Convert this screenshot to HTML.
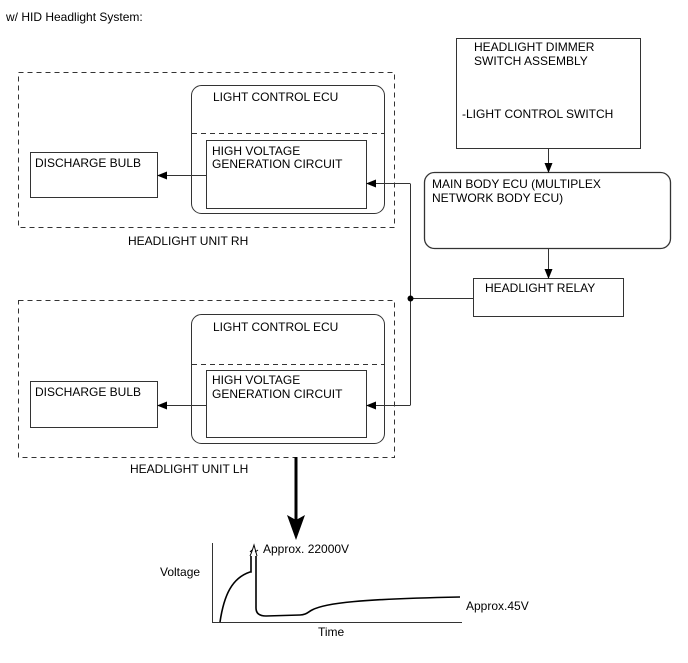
<!DOCTYPE html>
<html><head><meta charset="utf-8"><style>
html,body{margin:0;padding:0;background:#fff;}
text{font-family:"Liberation Sans",sans-serif;font-size:12px;fill:#000;}
</style></head><body>
<svg width="688" height="658" viewBox="0 0 688 658" xmlns="http://www.w3.org/2000/svg">
<defs><marker id="a" markerWidth="10" markerHeight="8" refX="9" refY="4" orient="auto" markerUnits="userSpaceOnUse"><path d="M0,0 L10,4 L0,8 Z" fill="#000"/></marker></defs>
<text x="6" y="21">w/ HID Headlight System:</text>
<g fill="none" stroke="#333" stroke-width="1">
<rect x="18.5" y="72.5" width="376" height="155" stroke-dasharray="5,4"/>
<rect x="191.5" y="85.5" width="193" height="128" rx="10"/>
<line x1="192" y1="133.5" x2="384" y2="133.5" stroke-dasharray="5,4"/>
<rect x="206.5" y="140.5" width="160" height="68"/>
<rect x="30.5" y="152.5" width="127" height="45"/>
<rect x="18.5" y="300.5" width="376" height="157" stroke-dasharray="5,4"/>
<rect x="191.5" y="314.5" width="193" height="129" rx="10"/>
<line x1="192" y1="364.5" x2="384" y2="364.5" stroke-dasharray="5,4"/>
<rect x="206.5" y="370.5" width="160" height="67"/>
<rect x="30.5" y="381.5" width="127" height="46"/>
<rect x="456.5" y="38.5" width="184" height="110"/>
<rect x="424.5" y="172.5" width="246" height="76" rx="10" stroke-width="1.3"/>
<rect x="473.5" y="278.5" width="150" height="38"/>
<line x1="206" y1="175.5" x2="158" y2="175.5" marker-end="url(#a)"/>
<line x1="206" y1="405.5" x2="158" y2="405.5" marker-end="url(#a)"/>
<polyline points="410.5,183.5 410.5,405.5"/>
<line x1="410" y1="183.5" x2="367" y2="183.5" marker-end="url(#a)"/>
<line x1="410" y1="405.5" x2="367" y2="405.5" marker-end="url(#a)"/>
<line x1="410" y1="298.5" x2="473" y2="298.5"/>
<line x1="548.5" y1="149" x2="548.5" y2="172" marker-end="url(#a)"/>
<line x1="548.5" y1="249" x2="548.5" y2="278" marker-end="url(#a)"/>
<line x1="212.5" y1="543" x2="212.5" y2="622"/>
<line x1="212" y1="622.5" x2="462" y2="622.5"/>
<path d="M220,622 C224,595 232,578 250,572 L251,572 L251,556 M256,556 L256,608 C256,614 260,616 266,616 L300,615 C306,615 308,612 312,610 C325,603 360,599 460,597" stroke="#000" stroke-width="1.6"/>
<path d="M250,556 C252,552 253,548 254,545 L257,556 M250,552 L252,550 M255,552 L258,550" stroke="#000" stroke-width="1"/>
</g>
<circle cx="410.5" cy="298.5" r="3" fill="#000"/>
<line x1="296" y1="457" x2="296" y2="520" stroke="#000" stroke-width="3"/>
<path d="M287,515 L296,540 L305,515 L296,520 Z" fill="#000"/>
<text x="213" y="101">LIGHT CONTROL ECU</text>
<text x="212" y="155">HIGH VOLTAGE</text>
<text x="212" y="168">GENERATION CIRCUIT</text>
<text x="35" y="167">DISCHARGE BULB</text>
<text x="128" y="245">HEADLIGHT UNIT RH</text>
<text x="213" y="331">LIGHT CONTROL ECU</text>
<text x="212" y="384">HIGH VOLTAGE</text>
<text x="212" y="398">GENERATION CIRCUIT</text>
<text x="35" y="396">DISCHARGE BULB</text>
<text x="130" y="473">HEADLIGHT UNIT LH</text>
<text x="474" y="51">HEADLIGHT DIMMER</text>
<text x="474" y="65">SWITCH ASSEMBLY</text>
<text x="462" y="118">-LIGHT CONTROL SWITCH</text>
<text x="432" y="188">MAIN BODY ECU (MULTIPLEX</text>
<text x="432" y="202">NETWORK BODY ECU)</text>
<text x="485" y="292">HEADLIGHT RELAY</text>
<text x="263" y="553">Approx. 22000V</text>
<text x="160" y="576">Voltage</text>
<text x="318" y="636">Time</text>
<text x="466" y="610">Approx.45V</text>
</svg>
</body></html>
